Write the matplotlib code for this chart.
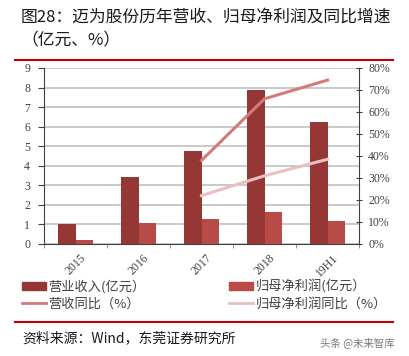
import matplotlib
matplotlib.use("Agg")
import matplotlib.pyplot as plt
from matplotlib.lines import Line2D
from matplotlib.patches import Patch
import numpy as np

plt.rcParams['font.family'] = ['Noto Sans CJK SC', 'DejaVu Sans']

categories = ["2015", "2016", "2017", "2018", "19H1"]
revenue = [1.03, 3.42, 4.74, 7.86, 6.22]
net_profit = [0.22, 1.05, 1.28, 1.65, 1.18]
rev_yoy_x = ["2017", "2018", "19H1"]
rev_yoy = [38, 66, 74.5]
np_yoy_x = ["2017", "2018", "19H1"]
np_yoy = [22, 31, 38.5]
left_ticks = list(range(0, 10))
right_ticks = list(range(0, 90, 10))

W, H = 409, 356
fig = plt.figure(figsize=(W / 100, H / 100), dpi=100)

c_rev = "#953735"
c_np = "#B84A47"
c_rev_line = "#D47A7A"
c_np_line = "#E8C0C0"

ax = fig.add_axes([44 / W, (H - 244) / H, 315 / W, 176 / H])
x = np.arange(len(categories))
bw = 0.27
ax.bar(x - bw / 2, revenue, bw, color=c_rev, zorder=3)
ax.bar(x + bw / 2, net_profit, bw, color=c_np, zorder=3)
ax.set_xlim(-0.5, len(categories) - 0.5)
ax.set_ylim(0, 9)
ax.set_yticks(left_ticks)
ax.yaxis.grid(True, color="#C0C0C0", linewidth=1.2, zorder=0)
ax.set_axisbelow(True)
for s in ["top", "right"]:
    ax.spines[s].set_visible(False)
ax.spines["left"].set_color("#404040")
ax.spines["bottom"].set_color("#404040")
ax.tick_params(axis="y", direction="out", length=4, color="#404040",
               labelsize=8.5, labelcolor="#404040", pad=6)
ax.set_yticklabels([str(t) for t in left_ticks], family="Liberation Serif")
ax.set_xticks(x)
ax.set_xticklabels(categories, rotation=45, family="Liberation Serif",
                   fontsize=8.5, color="#404040", ha="center", va="top")
ax.tick_params(axis="x", which="major", length=0, pad=6)
ax.set_xticks(np.arange(-0.5, len(categories), 1), minor=True)
ax.tick_params(axis="x", which="minor", direction="out", length=3, color="#808080")

ax2 = ax.twinx()
idx = {c: i for i, c in enumerate(categories)}
ax2.plot([idx[c] for c in rev_yoy_x], rev_yoy, color=c_rev_line, linewidth=2.2, zorder=4)
ax2.plot([idx[c] for c in np_yoy_x], np_yoy, color=c_np_line, linewidth=2.2, zorder=4)
ax2.set_ylim(0, 80)
ax2.set_yticks(right_ticks)
ax2.set_yticklabels([f"{t}%" for t in right_ticks], family="Liberation Serif")
for s in ["top", "left", "bottom"]:
    ax2.spines[s].set_visible(False)
ax2.spines["right"].set_color("#404040")
ax2.tick_params(axis="y", direction="inout", length=5, color="#404040",
                labelsize=8.5, labelcolor="#404040", pad=4)

# Title
fig.text(21 / W, 1 - 17 / H, "图28：迈为股份历年营收、归母净利润及同比增速", fontsize=12.1,
         color="#1a1a1a", va="center", ha="left")
fig.text(21 / W, 1 - 40 / H, "（亿元、%）", fontsize=12.1, color="#1a1a1a",
         va="center", ha="left")
fig.add_artist(Line2D([15 / W, 393 / W], [1 - 60 / H, 1 - 60 / H], color="#C00000", linewidth=1.5))
fig.add_artist(Line2D([15 / W, 393 / W], [1 - 322 / H, 1 - 322 / H], color="#C00000", linewidth=1.5))

# Legend
handles = [Patch(color=c_rev), Patch(color=c_np),
           Line2D([0], [0], color=c_rev_line, linewidth=2),
           Line2D([0], [0], color=c_np_line, linewidth=2)]
labels = ["营业收入(亿元）", "归母净利润(亿元）", "营收同比（%）", "归母净利润同比（%）"]
order = [0, 2, 1, 3]
leg = fig.legend([handles[i] for i in order], [labels[i] for i in order], ncol=2,
                 loc="center", bbox_to_anchor=(0.5, 1 - 295 / H), frameon=False,
                 fontsize=9.5, handlelength=1.8, handleheight=0.6, handletextpad=0.2,
                 columnspacing=6.3, labelspacing=0.3, labelcolor="#404040")

fig.text(22 / W, 1 - 338 / H, "资料来源：Wind，东莞证券研究所", fontsize=10,
         color="#1a1a1a", va="center", ha="left")
fig.text(395 / W, 1 - 343 / H, "头条 @未来智库", fontsize=7.5, color="#777777",
         va="center", ha="right")

fig.savefig("out.png", dpi=100)
